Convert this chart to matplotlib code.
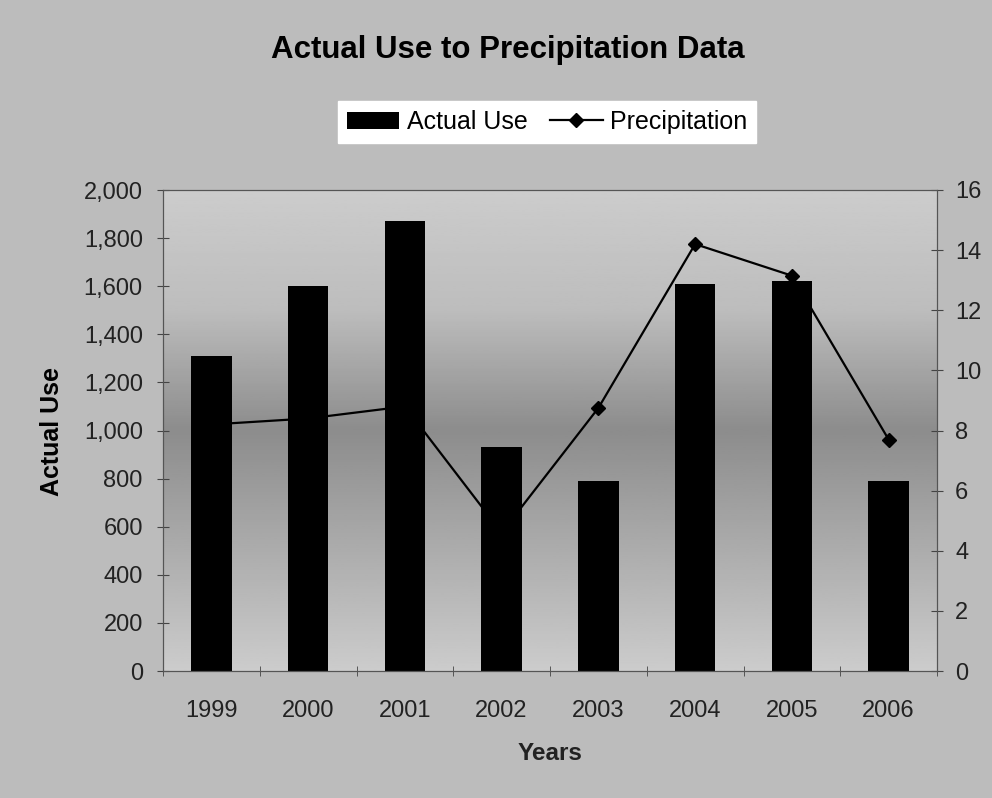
import numpy as np
import matplotlib
matplotlib.use('Agg')
import matplotlib.pyplot as plt
from matplotlib.ticker import FuncFormatter, FixedLocator

plt.rcParams['font.family'] = ['Liberation Sans', 'DejaVu Sans']

# Data
years = ['1999', '2000', '2001', '2002', '2003', '2004', '2005', '2006']
actual_use = [1310, 1600, 1870, 930, 790, 1610, 1620, 790]
precipitation = [8.2, 8.4, 8.8, 4.6, 8.75, 14.2, 13.15, 7.7]

W, H = 992, 798
fig = plt.figure(figsize=(W / 100, H / 100), dpi=100)
fig.patch.set_facecolor('#bcbcbc')

ax1 = fig.add_axes([163 / W, 1 - 671 / H, 774 / W, 481 / H])
x = np.arange(len(years))

# plot area shading: light at top and bottom, darker band in the middle
stops = [0.0, 0.2, 0.5, 0.75, 1.0]
shade = [0.80, 0.70, 0.55, 0.74, 0.80]
grad = np.interp(np.linspace(0, 1, 256), stops, shade)[:, None]
ax1.imshow(grad, extent=[0, 1, 0, 1], transform=ax1.transAxes, origin='lower',
           cmap='gray', vmin=0, vmax=1, aspect='auto', zorder=0)

bars = ax1.bar(x, actual_use, width=0.42, color='black', zorder=2, label='Actual Use')
ax1.set_xlim(-0.5, len(years) - 0.5)
ax1.set_ylim(0, 2000)
ax1.set_yticks(range(0, 2001, 200))
ax1.yaxis.set_major_formatter(FuncFormatter(lambda v, p: f'{int(v):,}'))
ax1.set_xticks(x)
ax1.set_xticklabels(years)
ax1.xaxis.set_minor_locator(FixedLocator(np.arange(-0.5, len(years), 1.0)))
ax1.tick_params(axis='x', which='major', length=0, pad=21, labelsize=17, labelcolor='#222222')
ax1.tick_params(axis='x', which='minor', length=7, direction='inout', color='#444444')
ax1.tick_params(axis='y', length=8, direction='inout', pad=10.5, labelsize=17,
                labelcolor='#222222', color='#444444')

ax2 = ax1.twinx()
line, = ax2.plot(x, precipitation, color='black', lw=1.6, marker='D', ms=7,
                 zorder=3, label='Precipitation')
ax2.set_ylim(0, 16)
ax2.set_yticks(range(0, 17, 2))
ax2.tick_params(axis='y', length=8, direction='inout', pad=9, labelsize=17,
                labelcolor='#222222', color='#444444')

for ax in (ax1, ax2):
    for s in ax.spines.values():
        s.set_color('#555555')
        s.set_linewidth(0.8)

fig.text(508 / W, 1 - 50 / H, 'Actual Use to Precipitation Data', ha='center', va='center',
         fontsize=22.5, fontweight='bold')
fig.text(52 / W, 1 - 432 / H, 'Actual Use', rotation=90, ha='center', va='center',
         fontsize=18, fontweight='bold')
fig.text(550 / W, 1 - 753 / H, 'Years', ha='center', va='center',
         fontsize=17.5, fontweight='bold', color='#222222')

leg = fig.legend([bars, line], ['Actual Use', 'Precipitation'], loc='center',
                 bbox_to_anchor=(547 / W, 1 - 122 / H), ncol=2, fontsize=18,
                 frameon=True, fancybox=False, handlelength=2.1, columnspacing=0.9,
                 handletextpad=0.3, borderpad=0.35)
leg.get_frame().set_facecolor('white')
leg.get_frame().set_edgecolor('white')
leg.get_frame().set_alpha(1)

fig.savefig('out.png', dpi=100, facecolor=fig.get_facecolor())
